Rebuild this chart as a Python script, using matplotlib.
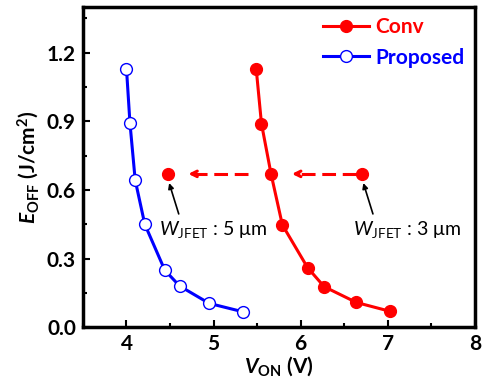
import matplotlib
matplotlib.use('Agg')
import matplotlib.pyplot as plt
from matplotlib.ticker import MultipleLocator

plt.rcParams['font.family'] = ['Lato', 'DejaVu Sans']
plt.rcParams['mathtext.fontset'] = 'custom'
plt.rcParams['mathtext.rm'] = 'Lato'
plt.rcParams['mathtext.it'] = 'Lato:italic'
plt.rcParams['mathtext.bf'] = 'Lato:bold'
plt.rcParams['mathtext.bfit'] = 'Lato:bold:italic'

# Data
conv_von = [5.49, 5.55, 5.66, 5.79, 6.08, 6.27, 6.64, 7.03]
conv_eoff = [1.128, 0.89, 0.67, 0.447, 0.26, 0.177, 0.108, 0.069]
prop_von = [4.00, 4.04, 4.10, 4.21, 4.44, 4.61, 4.95, 5.34]
prop_eoff = [1.13, 0.892, 0.643, 0.450, 0.249, 0.18, 0.104, 0.067]

# single design points (W_JFET = 5 um, W_JFET = 3 um)
single_von = [4.48, 6.71]
single_eoff = [0.67, 0.67]
single_labels = ['5', '3']

# dashed shift arrows (start, end) along E_OFF = 0.67
shift_start = [6.64, 5.39]
shift_end = [5.90, 4.71]

red = '#ff0000'
blue = '#0000ff'

fig = plt.figure(figsize=(4.85, 3.8), dpi=100)
ax = fig.add_axes([0.171, 0.139, 0.808, 0.843])

ax.plot(conv_von, conv_eoff, '-o', color=red, lw=2.2, ms=8.5,
        mfc=red, mec=red, label='Conv')
ax.plot(prop_von, prop_eoff, '-o', color=blue, lw=2.2, ms=8.5,
        mfc='white', mec=blue, mew=1.0, label='Proposed')
ax.plot(single_von, single_eoff, 'o', color=red, ms=8.5, zorder=4)

for x0, x1, y in zip(shift_start, shift_end, single_eoff):
    ax.plot([x0, x1 + 0.03], [y, y], '--', color=red, lw=2.2, dashes=(4.5, 2.2))
    ax.annotate('', xy=(x1, y), xytext=(x1 + 0.08, y),
                arrowprops=dict(arrowstyle='->', color=red, lw=2.2,
                                shrinkA=0, shrinkB=0, mutation_scale=10))

# pointer arrows and labels
for x, y, w in zip(single_von, single_eoff, single_labels):
    ax.annotate('', xy=(x + 0.01, y - 0.04), xytext=(x + 0.12, y - 0.175),
                arrowprops=dict(arrowstyle='-|>', color='black', lw=1.2,
                                shrinkA=0, shrinkB=0, mutation_scale=8))
    ax.text(x - 0.11, y - 0.245, r'$\mathit{W}_{\mathrm{JFET}}$ : ' + w + ' \u03bcm',
            fontsize=14, ha='left', va='center')

ax.set_xlim(3.5, 8)
ax.set_ylim(0, 1.4)
ax.xaxis.set_major_locator(MultipleLocator(1))
ax.xaxis.set_minor_locator(MultipleLocator(0.5))
ax.yaxis.set_major_locator(MultipleLocator(0.3))
ax.yaxis.set_minor_locator(MultipleLocator(0.15))
ax.tick_params(which='both', direction='in', width=1.5)
ax.tick_params(which='major', length=5, labelsize=15, pad=5)
ax.tick_params(which='minor', length=3)
for lab in ax.get_xticklabels() + ax.get_yticklabels():
    lab.set_fontweight('bold')
for sp in ax.spines.values():
    sp.set_linewidth(2.5)

ax.set_xlabel(r'$\mathbfit{V}_{\mathbf{ON}}$ (V)', fontsize=15, fontweight='bold', labelpad=0)
ax.set_ylabel(r'$\mathbfit{E}_{\mathbf{OFF}}$ (J/cm$^{\mathbf{2}}$)', fontsize=15,
              fontweight='bold', labelpad=4)

leg = ax.legend(loc='upper right', frameon=False, handlelength=2.2,
                handletextpad=0.3, borderaxespad=0.1, labelspacing=0.5,
                prop={'weight': 'bold', 'size': 15})
for txt, c in zip(leg.get_texts(), [red, blue]):
    txt.set_color(c)

fig.savefig('out.png', dpi=100)
